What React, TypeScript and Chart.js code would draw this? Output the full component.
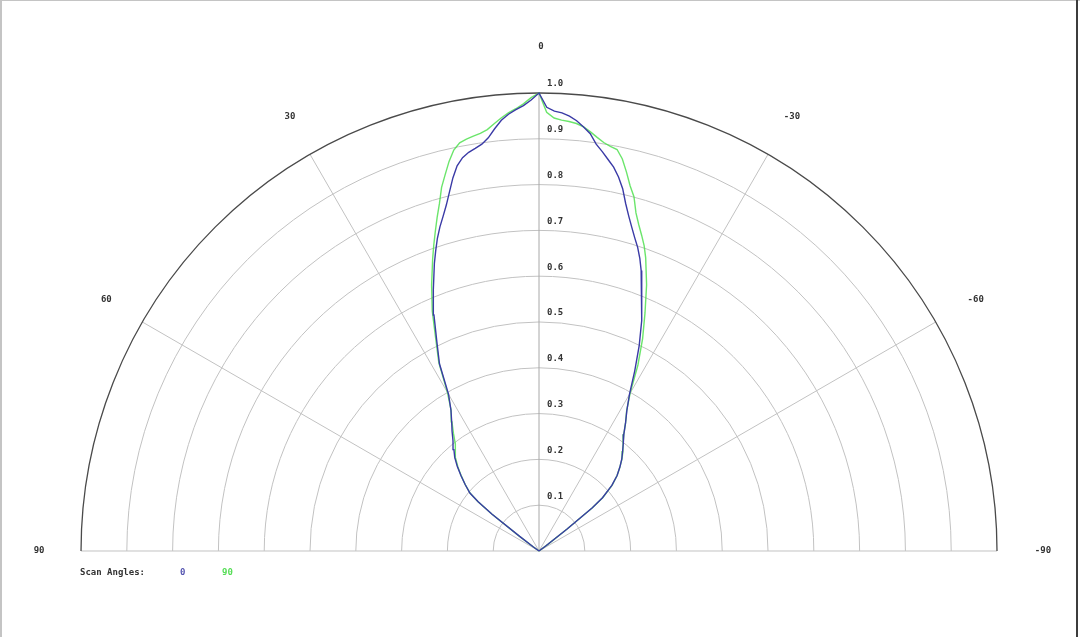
import { useEffect, useRef } from 'react';
import { Chart, registerables } from 'chart.js';

Chart.register(...registerables);

// scan angle in degrees (positive = left of the 0 axis)
const angles = [
  90, 70, 56, 54, 53, 52, 51, 50, 48, 46, 44, 42, 40, 38, 36, 34, 32, 30, 28, 26, 24, 22, 20,
  19, 18, 17, 16, 15, 14, 13, 12, 11, 10, 9, 8, 7, 6, 5, 4, 3, 2, 1, 0,
  -1, -2, -3, -4, -5, -6, -7, -8, -9, -10, -11, -12, -13, -14, -15, -16, -17, -18, -19,
  -20, -22, -24, -26, -28, -30, -32, -34, -36, -38, -40, -42, -44, -46, -48, -50, -51, -52, -53, -54, -56, -70, -90,
];

// relative intensity, scan angle 0
const scan0 = [
  0, 0, 0, 0.015, 0.052, 0.13, 0.171, 0.197, 0.217, 0.237, 0.257, 0.275, 0.289, 0.305, 0.323, 0.341, 0.363, 0.395, 0.463, 0.509, 0.564, 0.616, 0.668,
  0.693, 0.718, 0.74, 0.76, 0.782, 0.808, 0.836, 0.86, 0.875, 0.884, 0.89, 0.897, 0.909, 0.927, 0.944, 0.956, 0.965, 0.973, 0.985, 1.0,
  0.969, 0.961, 0.958, 0.952, 0.943, 0.931, 0.918, 0.897, 0.883, 0.868, 0.854, 0.835, 0.812, 0.782, 0.757, 0.735, 0.715, 0.697, 0.676,
  0.652, 0.599, 0.551, 0.499, 0.445, 0.395, 0.362, 0.338, 0.315, 0.299, 0.284, 0.27, 0.254, 0.237, 0.214, 0.181, 0.149, 0.077, 0.02, 0, 0, 0, 0,
];

// relative intensity, scan angle 90
const scan90 = [
  0, 0, 0, 0.015, 0.055, 0.13, 0.172, 0.196, 0.217, 0.236, 0.255, 0.272, 0.285, 0.296, 0.318, 0.34, 0.362, 0.4, 0.466, 0.514, 0.573, 0.626, 0.679,
  0.706, 0.733, 0.761, 0.789, 0.822, 0.847, 0.873, 0.895, 0.908, 0.913, 0.917, 0.921, 0.927, 0.938, 0.949, 0.959, 0.967, 0.977, 0.99, 1.0,
  0.958, 0.946, 0.942, 0.94, 0.937, 0.931, 0.922, 0.912, 0.903, 0.897, 0.893, 0.875, 0.849, 0.822, 0.801, 0.768, 0.745, 0.725, 0.705,
  0.681, 0.627, 0.569, 0.516, 0.46, 0.398, 0.361, 0.338, 0.315, 0.298, 0.285, 0.271, 0.254, 0.237, 0.215, 0.182, 0.15, 0.077, 0.025, 0, 0, 0, 0,
];

const seriesLabels = ['0', '90'];
const seriesColors = ['#3a3aa6', 'rgba(70, 222, 70, 0.8)'];
const legendColors = ['#5555b0', '#55dd55'];

const angleTicks = [90, 60, 30, 0, -30, -60, -90];
const radialTicks = [0.1, 0.2, 0.3, 0.4, 0.5, 0.6, 0.7, 0.8, 0.9, 1.0];
const legendTitle = 'Scan Angles:';

const FONT = 'bold 9px "DejaVu Sans Mono", monospace';

function toXY(deg: number, r: number) {
  const t = (deg * Math.PI) / 180;
  return { x: -r * Math.sin(t), y: r * Math.cos(t) };
}

const polarGrid = {
  id: 'polarGrid',
  beforeDatasetsDraw(chart: any) {
    const { ctx } = chart;
    const xs = chart.scales.x;
    const ys = chart.scales.y;
    const cx = xs.getPixelForValue(0);
    const cy = ys.getPixelForValue(0);
    const rad = (v: number) => xs.getPixelForValue(v) - cx;
    const maxR = radialTicks[radialTicks.length - 1];

    ctx.save();
    // inner rings
    ctx.strokeStyle = '#c2c2c2';
    ctx.lineWidth = 1;
    radialTicks.slice(0, -1).forEach((v) => {
      ctx.beginPath();
      ctx.arc(cx, cy, rad(v), Math.PI, 2 * Math.PI);
      ctx.stroke();
    });
    // spokes
    angleTicks.forEach((a) => {
      const p = toXY(a, maxR);
      ctx.beginPath();
      ctx.moveTo(cx, cy);
      ctx.lineTo(xs.getPixelForValue(p.x), ys.getPixelForValue(p.y));
      ctx.strokeStyle = a === 0 ? '#a8a8a8' : '#c2c2c2';
      ctx.stroke();
    });
    // outer ring
    ctx.strokeStyle = '#4a4a4a';
    ctx.lineWidth = 1.3;
    ctx.beginPath();
    ctx.arc(cx, cy, rad(maxR), Math.PI, 2 * Math.PI);
    ctx.stroke();

    // labels
    ctx.font = FONT;
    ctx.fillStyle = '#333';
    ctx.textBaseline = 'middle';
    ctx.textAlign = 'left';
    radialTicks.forEach((v) => {
      ctx.fillText(v.toFixed(1), cx + 8, ys.getPixelForValue(v) - 9);
    });
    ctx.textAlign = 'center';
    angleTicks.forEach((a) => {
      const p = toXY(a, maxR * 1.096);
      ctx.fillText(String(a), xs.getPixelForValue(p.x) + 2, ys.getPixelForValue(p.y) - (a === 0 ? 2 : 0));
    });
    ctx.restore();
  },
  afterDraw(chart: any) {
    const { ctx, width, height } = chart;
    ctx.save();
    ctx.font = FONT;
    ctx.textBaseline = 'middle';
    ctx.textAlign = 'left';
    ctx.fillStyle = '#333';
    ctx.fillText(legendTitle, 80, 573);
    seriesLabels.forEach((lbl, i) => {
      ctx.fillStyle = legendColors[i];
      ctx.fillText(lbl, 180 + i * 42, 573);
    });
    // frame
    ctx.fillStyle = '#c4c4c4';
    ctx.fillRect(0, 0, width, 1);
    ctx.fillRect(0, 0, 2, height);
    ctx.fillStyle = '#3c3c3c';
    ctx.fillRect(1076, 0, 2, height);
    ctx.restore();
  },
};

export default function App() {
  const canvasRef = useRef<HTMLCanvasElement>(null);
  const chartRef = useRef<Chart | null>(null);

  useEffect(() => {
    if (!canvasRef.current) return;
    if (chartRef.current) chartRef.current.destroy();

    const series = [scan0, scan90];
    chartRef.current = new Chart(canvasRef.current, {
      type: 'scatter',
      data: {
        datasets: series.map((vals, i) => ({
          label: seriesLabels[i],
          data: angles.map((a, k) => toXY(a, vals[k])),
          showLine: true,
          borderColor: seriesColors[i],
          borderWidth: 1.4,
          pointRadius: 0,
          tension: 0,
          fill: false,
        })),
      },
      options: {
        responsive: false,
        animation: false,
        layout: { padding: 0 },
        scales: {
          x: { type: 'linear', display: false, min: -1.1769, max: 1.1812 },
          y: { type: 'linear', display: false, min: -0.1878, max: 1.2031 },
        },
        plugins: {
          legend: { display: false },
          tooltip: { enabled: false },
        },
      },
      plugins: [polarGrid],
    });

    return () => {
      if (chartRef.current) {
        chartRef.current.destroy();
        chartRef.current = null;
      }
    };
  }, []);

  return (
    <div style={{ position: 'absolute', left: 0, top: 0, width: 1080, height: 637, background: '#fff' }}>
      <canvas ref={canvasRef} width={1080} height={637} />
    </div>
  );
}
